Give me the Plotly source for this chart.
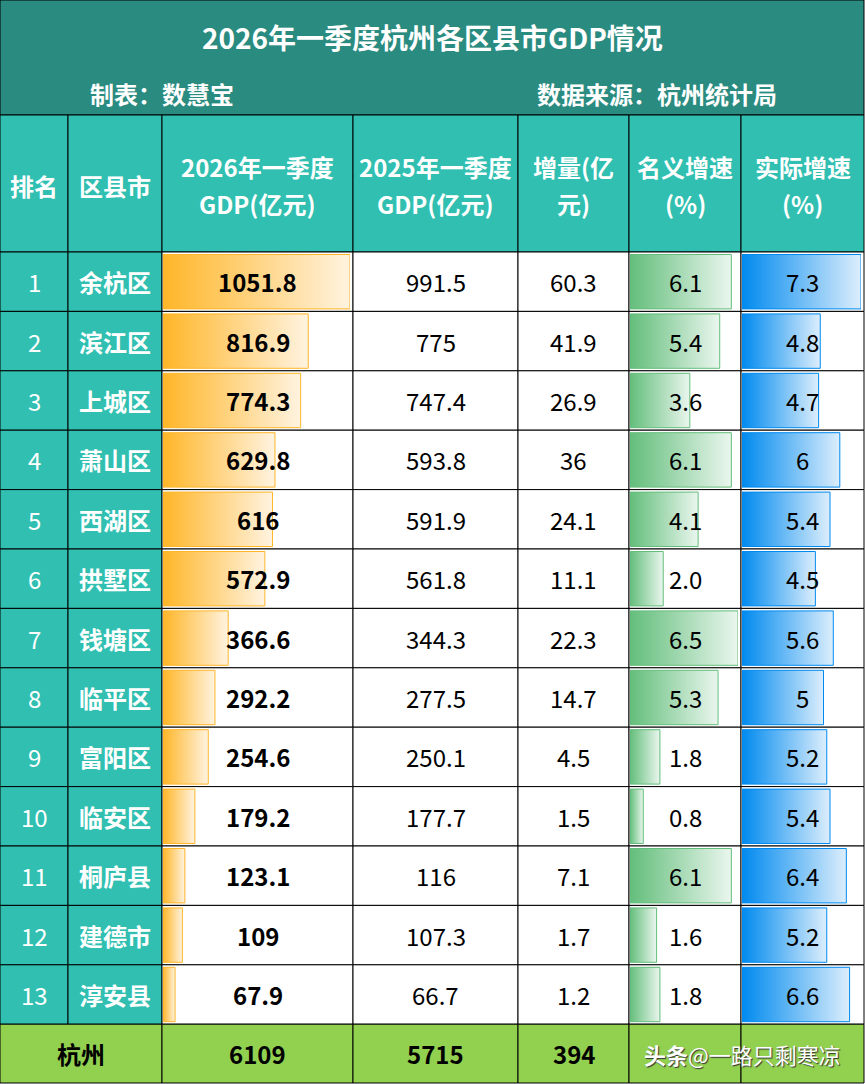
import plotly.graph_objects as go

TITLE = "2026年一季度杭州各区县市GDP情况"
MAKER = "制表：数慧宝"
SOURCE = "数据来源：杭州统计局"
WATERMARK = "<b>头条</b>@一路只剩寒凉"

HEADER_LINES = [
    ["排名"],
    ["区县市"],
    ["2026年一季度", "GDP(亿元)"],
    ["2025年一季度", "GDP(亿元)"],
    ["增量(亿", "元)"],
    ["名义增速", "(%)"],
    ["实际增速", "(%)"],
]

RANKS = ["1", "2", "3", "4", "5", "6", "7", "8", "9", "10", "11", "12", "13"]
DISTRICTS = ["余杭区", "滨江区", "上城区", "萧山区", "西湖区", "拱墅区", "钱塘区",
             "临平区", "富阳区", "临安区", "桐庐县", "建德市", "淳安县"]
GDP_2026 = ["1051.8", "816.9", "774.3", "629.8", "616", "572.9", "366.6",
            "292.2", "254.6", "179.2", "123.1", "109", "67.9"]
GDP_2025 = ["991.5", "775", "747.4", "593.8", "591.9", "561.8", "344.3",
            "277.5", "250.1", "177.7", "116", "107.3", "66.7"]
INCREASE = ["60.3", "41.9", "26.9", "36", "24.1", "11.1", "22.3",
            "14.7", "4.5", "1.5", "7.1", "1.7", "1.2"]
NOMINAL = ["6.1", "5.4", "3.6", "6.1", "4.1", "2.0", "6.5",
           "5.3", "1.8", "0.8", "6.1", "1.6", "1.8"]
REAL = ["7.3", "4.8", "4.7", "6", "5.4", "4.5", "5.6",
        "5", "5.2", "5.4", "6.4", "5.2", "6.6"]
TOTAL = ["杭州", "6109", "5715", "394"]

# ---- table geometry (pixels) ----
W, H = 865, 1084
COL_EDGES = [0, 68, 162, 353, 518, 629, 741, 864]
TITLE_BOTTOM = 115
HEADER_BOTTOM = 252
ROW_H = 59.4
TOTAL_BOTTOM = 1083

FONT = "Noto Sans CJK SC"
TITLE_BG = "#2a8b80"
HEAD_BG = "#30bfb1"
TOTAL_BG = "#92d050"

centers = [(a + b) / 2 for a, b in zip(COL_EDGES[:-1], COL_EDGES[1:])]
n_rows = len(RANKS)
row_top = [HEADER_BOTTOM + i * ROW_H for i in range(n_rows + 1)]
row_mid = [t + ROW_H / 2 for t in row_top]

fig = go.Figure()
shapes = []
annotations = []


def cell(x0, x1, y0, y1, fill):
    shapes.append(dict(type="rect", xref="x", yref="y", x0=x0, x1=x1, y0=y0, y1=y1,
                       fillcolor=fill, line=dict(color="black", width=1), layer="below"))


def label(x, y, text, color="black", size=24, bold=False, anchor="center", shadow=None):
    font = dict(family=FONT, color=color, size=size)
    if shadow:
        font["shadow"] = shadow
    annotations.append(dict(
        x=x, y=y, xref="x", yref="y", text=f"<b>{text}</b>" if bold else text,
        showarrow=False, xanchor=anchor, yanchor="middle", font=font))


# title band, header, body, total row
cell(0, COL_EDGES[-1], 0, TITLE_BOTTOM, TITLE_BG)
for j in range(7):
    cell(COL_EDGES[j], COL_EDGES[j + 1], TITLE_BOTTOM, HEADER_BOTTOM, HEAD_BG)
for i in range(n_rows):
    for j in range(7):
        cell(COL_EDGES[j], COL_EDGES[j + 1], row_top[i], row_top[i + 1],
             HEAD_BG if j < 2 else "white")
cell(COL_EDGES[0], COL_EDGES[2], row_top[-1], TOTAL_BOTTOM, TOTAL_BG)
for j in range(2, 7):
    cell(COL_EDGES[j], COL_EDGES[j + 1], row_top[-1], TOTAL_BOTTOM, TOTAL_BG)

# gradient data bars, each column on its own value axis
bar_specs = [
    (GDP_2026, 2, "x2", "#FFB628", "#FFF3E0"),
    (NOMINAL, 5, "x3", "#63BE7B", "#EAF6EE"),
    (REAL, 6, "x4", "#008AEF", "#DCEEFC"),
]
bar_axes = {}
for values, col, axis, color, tint in bar_specs:
    nums = [float(v) for v in values]
    left, right = COL_EDGES[col], COL_EDGES[col + 1]
    bar_axes["xaxis" + axis[1:]] = dict(
        domain=[(left + 1) / W, (right - 3) / W], range=[0, max(nums)],
        anchor="y", visible=False, fixedrange=True)
    for i, v in enumerate(nums):
        y0, y1 = row_top[i] + 2.5, row_top[i + 1] - 2.5
        fig.add_trace(go.Scatter(
            x=[0, v, v, 0, 0], y=[y0, y0, y1, y1, y0],
            xaxis=axis, yaxis="y", mode="lines", fill="toself",
            fillgradient=dict(type="horizontal", colorscale=[[0, color], [1, tint]]),
            line=dict(color=color, width=1), hoverinfo="skip", showlegend=False))

# title block
label(W / 2, 37, TITLE, "white", 28, bold=True)
label(88, 93, MAKER, "white", 24, bold=True, anchor="left")
label(535, 93, SOURCE, "white", 24, bold=True, anchor="left")

# header
for j, lines in enumerate(HEADER_LINES):
    ys = [185] if len(lines) == 1 else [166, 203]
    for line, y in zip(lines, ys):
        label(centers[j], y, line, "white", 24, bold=True)

# body
for i in range(n_rows):
    y = row_mid[i]
    label(centers[0], y, RANKS[i], "white")
    label(centers[1], y, DISTRICTS[i], "white", bold=True)
    label(centers[2], y, GDP_2026[i], bold=True)
    label(centers[3], y, GDP_2025[i])
    label(centers[4], y, INCREASE[i])
    label(centers[5], y, NOMINAL[i])
    label(centers[6], y, REAL[i])

# total row
total_y = (row_top[-1] + TOTAL_BOTTOM) / 2
for x, t in zip([COL_EDGES[2] / 2, centers[2], centers[3], centers[4]], TOTAL):
    label(x, total_y, t, bold=True)
label(742, total_y, WATERMARK, "white", 22, shadow="1px 1px 1px #333")

fig.update_layout(
    width=W,
    height=H,
    margin=dict(l=0, r=0, t=0, b=0),
    paper_bgcolor="white",
    plot_bgcolor="rgba(0,0,0,0)",
    showlegend=False,
    shapes=shapes,
    annotations=annotations,
    xaxis=dict(range=[0, W], domain=[0, 1], visible=False, fixedrange=True),
    yaxis=dict(range=[H, 0], domain=[0, 1], visible=False, fixedrange=True),
    **bar_axes,
)

fig.write_html("out.html", config={"displayModeBar": False},
               post_script="document.body.style.margin='0';")
